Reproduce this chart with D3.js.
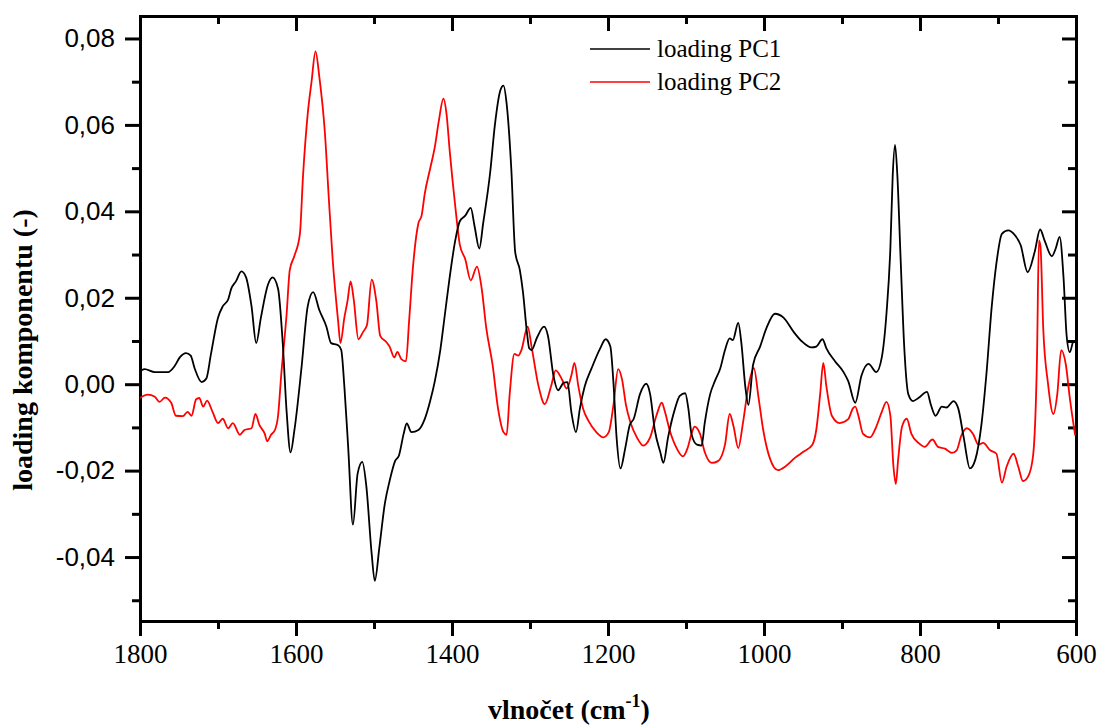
<!DOCTYPE html>
<html>
<head>
<meta charset="utf-8">
<script src="https://cdn.jsdelivr.net/npm/d3@7"></script>
<style>
  body { margin: 0; background: #fff; }
  .axis path, .axis line { stroke: #000; }
  .axis text { fill: #000; }
</style>
</head>
<body>
<div id="chart-area"></div>
<script>

// Data (wavenumber in cm-1, loading value)

let pc1Wn = [1798,1794,1781,1764,1756,1749,1741,1735,1730,1721,1715,1709,1700,1694,1687,1683,1677,1670,1664,1657,1651,1645,1636,1630,1623,1617,1612,1607,1602,1593,1585,1578,1570,1561,1555,1546,1542,1538,1533,1527,1521,1515,1510,1503,1499,1493,1486,
	1480,1473,1468,1462,1458,1452,1443,1435,1428,1422,1415,1409,1403,1396,1390,1383,1376,1371,1365,1360,1351,1345,1338,1334,1330,1324,1319,1313,1309,1304,1301,1298,1291,1282,1277,1270,1264,1257,1252,1247,1241,1236,1230,1221,1210,1203,1197,1193,1189,1184,1178,1172,1167,1159,1151,1146,1140,1133,1129,1123,1114,1108,1101,1097,1093,1086,1080,1076,1069,1063,1056,1050,1044,1040,1033,1029,1024,1020,1014,1005,997,986,975,962,952,939,933,925,920,909,898,892,883,875,866,856,849,843,838,835,832,829,825,820,815,809,802,791,786,780,772,766,757,751,744,736,729,721,715,708,702,695,687,678,671,662,653,646,640,631,626,621,616,612,608,603,600];

let pc1Val = [0.0032,0.0035,0.0028,0.0028,0.0041,0.0062,0.0072,0.0066,0.0037,0.0005,0.0013,0.0070,0.0154,0.0180,0.0196,0.0221,0.0238,0.0261,0.0247,0.0180,0.0095,0.0154,0.0230,0.0247,0.0221,0.0095,-0.0064,-0.0158,-0.0106,0.0037,0.0180,0.0213,0.0171,0.0133,0.0095,0.0090,0.0079,-0.0005,-0.0149,-0.0325,-0.0207,-0.0180,-0.0233,-0.0392,-0.0455,-0.0376,-0.0275,
	-0.0224,-0.0178,-0.0165,-0.0115,-0.0091,-0.0111,-0.0106,-0.0081,-0.0039,0.0007,0.0079,0.0163,0.0247,0.0331,0.0377,0.0390,0.0408,0.0365,0.0314,0.0373,0.0491,0.0600,0.0680,0.0691,0.0650,0.0499,0.0306,0.0264,0.0213,0.0121,0.0083,0.0079,0.0108,0.0133,0.0112,0.0020,-0.0014,0.0003,0.0005,-0.0064,-0.0111,-0.0056,-0.0006,0.0037,0.0083,0.0104,0.0087,0.0003,-0.0123,-0.0195,-0.0149,-0.0094,-0.0080,-0.0023,0.0001,-0.0023,-0.0106,-0.0157,-0.0182,-0.0123,-0.0056,-0.0027,-0.0021,-0.0056,-0.0115,-0.0140,-0.0142,-0.0090,-0.0023,0.0007,0.0037,0.0079,0.0106,0.0102,0.0142,0.0095,-0.0005,-0.0048,0.0045,0.0087,0.0129,0.0163,0.0154,0.0121,0.0100,0.0085,0.0087,0.0104,0.0083,0.0053,0.0028,0.0007,-0.0043,0.0020,0.0047,0.0028,0.0062,0.0163,0.0314,0.0482,0.0554,0.0482,0.0297,0.0079,-0.0023,-0.0039,-0.0032,-0.0018,-0.0048,-0.0073,-0.0052,-0.0054,-0.0039,-0.0056,-0.0123,-0.0195,-0.0174,-0.0090,0.0020,0.0180,0.0280,0.0348,0.0356,0.0344,0.0322,0.0259,0.0306,0.0358,0.0331,0.0296,0.0314,0.0341,0.0247,0.0112,0.0074,0.0100,0.0095];

let pc2Wn = [1800,1790,1781,1775,1768,1760,1754,1745,1739,1734,1728,1724,1719,1714,1707,1700,1694,1687,1681,1672,1666,1657,1652,1647,1640,1637,1632,1627,1623,1619,1612,1608,1602,1595,1591,1585,1580,1575,1570,1563,1558,1553,1546,1543,1538,1534,1530,1526,1520,1514,1509,1503,1497,1492,1484,
	1480,1474,1470,1465,1459,1455,1450,1443,1439,1435,1428,1422,1417,1411,1407,1403,1396,1390,1383,1376,1368,1362,1356,1348,1341,1334,1330,1326,1320,1315,1311,1303,1298,1289,1281,1273,1267,1259,1253,1247,1243,1238,1232,1225,1215,1206,1199,1193,1187,1182,1177,1171,
	1163,1155,1146,1138,1131,1127,1121,1112,1104,1098,1093,1089,1082,1076,1067,1059,1050,1044,1039,1033,1027,1020,1013,1007,1001,992,982,973,960,950,938,933,928,924,920,913,903,892,886,
	883,879,873,864,856,849,843,838,834,831,828,823,817,811,802,794,784,777,768,759,753,747,740,732,725,719,710,702,695,689,680,674,668,661,655,650,647.5,645.5,642,636,629,624,619,613,608,601];

let pc2Val = [-0.0032,-0.0024,-0.0029,-0.0041,-0.0031,-0.0043,-0.0073,-0.0074,-0.0064,-0.0073,-0.0035,-0.0032,-0.0052,-0.0038,-0.0064,-0.0090,-0.0080,-0.0102,-0.0090,-0.0117,-0.0106,-0.0102,-0.0069,-0.0094,-0.0115,-0.0132,-0.0117,-0.0106,-0.0073,0.0020,0.0163,0.0264,0.0297,0.0348,0.0482,0.0625,0.0701,0.0770,0.0710,0.0583,0.0432,0.0289,0.0146,0.0095,0.0154,0.0192,0.0238,0.0196,0.0104,0.0121,0.0137,0.0242,0.0192,0.0112,0.0097,
	0.0087,0.0062,0.0075,0.0058,0.0053,0.0146,0.0272,0.0373,0.0390,0.0440,0.0499,0.0549,0.0608,0.0661,0.0625,0.0541,0.0415,0.0323,0.0289,0.0240,0.0272,0.0222,0.0129,0.0045,-0.0056,-0.0111,-0.0117,-0.0022,0.0070,0.0066,0.0079,0.0133,0.0087,-0.0005,-0.0046,-0.0005,0.0032,0.0011,-0.0010,0.0020,0.0049,-0.0005,-0.0056,-0.0085,-0.0111,-0.0123,-0.0111,-0.0048,0.0035,0.0011,-0.0048,-0.0090,
	-0.0123,-0.0142,-0.0123,-0.0073,-0.0043,-0.0064,-0.0106,-0.0148,-0.0167,-0.0148,-0.0115,-0.0098,-0.0115,-0.0157,-0.0182,-0.0178,-0.0140,-0.0069,-0.0098,-0.0148,-0.0090,-0.0005,0.0037,-0.0031,-0.0106,-0.0174,-0.0199,-0.0191,-0.0170,-0.0157,-0.0140,-0.0106,-0.0023,0.0049,-0.0005,-0.0073,-0.0090,-0.0081,-0.0056,
	-0.0052,-0.0073,-0.0115,-0.0123,-0.0098,-0.0064,-0.0041,-0.0073,-0.0191,-0.0231,-0.0174,-0.0098,-0.0080,-0.0115,-0.0136,-0.0145,-0.0128,-0.0145,-0.0149,-0.0159,-0.0153,-0.0119,-0.0102,-0.0115,-0.0140,-0.0136,-0.0153,-0.0161,-0.0228,-0.0191,-0.0161,-0.0191,-0.0224,-0.0212,-0.0165,0.0062,0.0333,0.0318,0.0129,0.0003,-0.0069,-0.0023,0.0079,0.0045,-0.0031,-0.0119];

let xTicks = [1800, 1600, 1400, 1200, 1000, 800, 600];
let xMinorTicks = [1700, 1500, 1300, 1100, 900, 700];
let yTicks = [-0.04, -0.02, 0.00, 0.02, 0.04, 0.06, 0.08];
let yMinorTicks = [-0.05, -0.03, -0.01, 0.01, 0.03, 0.05, 0.07];

let seriesNames = ["loading PC1", "loading PC2"];
let seriesColors = ["#000000", "#ff0000"];

// SVG drawing area

let margin = {top: 16, right: 22, bottom: 105, left: 140};

let width = 1098 - margin.left - margin.right,
    height = 726 - margin.top - margin.bottom;

let svg = d3.select("#chart-area").append("svg")
    .attr("width", 1098)
    .attr("height", 726)
  .append("g")
    .attr("transform", "translate(" + margin.left + "," + margin.top + ")");

// Scales
let x = d3.scaleLinear()
	.domain([1800, 600])
	.range([0, width]);

let y = d3.scaleLinear()
	.domain([-0.0548, 0.0852])
	.range([height, 0]);

let yFormat = d => d3.format(".2f")(d).replace(".", ",").replace("\u2212", "-");

// axes: major + minor, outer ticks on bottom/left, inner ticks on top/right
function styleAxis(g, fontFamily, fontSize) {
	g.attr("class", "axis");
	g.select(".domain").attr("stroke-width", 3).attr("stroke-linecap", "square");
	g.selectAll(".tick line").attr("stroke-width", 3);
	g.selectAll("text").style("font-family", fontFamily).style("font-size", fontSize + "px");
}

svg.append("g")
	.attr("transform", "translate(0," + height + ")")
	.call(d3.axisBottom(x).tickValues(xTicks).tickSize(15).tickSizeOuter(0).tickPadding(8).tickFormat(d3.format("d")))
	.call(g => styleAxis(g, "'Liberation Serif', 'Times New Roman', serif", 27));

svg.append("g")
	.attr("transform", "translate(0," + height + ")")
	.call(d3.axisBottom(x).tickValues(xMinorTicks).tickSize(8).tickSizeOuter(0).tickFormat(""))
	.call(g => styleAxis(g, "serif", 10));

svg.append("g")
	.call(d3.axisTop(x).tickValues(xTicks).tickSize(-15).tickSizeOuter(0).tickFormat(""))
	.call(g => styleAxis(g, "serif", 10));

svg.append("g")
	.call(d3.axisTop(x).tickValues(xMinorTicks).tickSize(-8).tickSizeOuter(0).tickFormat(""))
	.call(g => styleAxis(g, "serif", 10));

svg.append("g")
	.call(d3.axisLeft(y).tickValues(yTicks).tickSize(15).tickSizeOuter(0).tickPadding(10).tickFormat(yFormat))
	.call(g => styleAxis(g, "'Liberation Sans', Arial, sans-serif", 26));

svg.append("g")
	.call(d3.axisLeft(y).tickValues(yMinorTicks).tickSize(8).tickSizeOuter(0).tickFormat(""))
	.call(g => styleAxis(g, "sans-serif", 10));

svg.append("g")
	.attr("transform", "translate(" + width + ",0)")
	.call(d3.axisRight(y).tickValues(yTicks).tickSize(-14).tickSizeOuter(0).tickFormat(""))
	.call(g => styleAxis(g, "sans-serif", 10));

svg.append("g")
	.attr("transform", "translate(" + width + ",0)")
	.call(d3.axisRight(y).tickValues(yMinorTicks).tickSize(-8).tickSizeOuter(0).tickFormat(""))
	.call(g => styleAxis(g, "sans-serif", 10));

// clip for the lines
svg.append("clipPath")
	.attr("id", "plot-clip")
  .append("rect")
	.attr("width", width)
	.attr("height", height);

let line = d3.line()
	.x(d => x(d[0]))
	.y(d => y(d[1]))
	.curve(d3.curveMonotoneX);

let series = [
	d3.zip(pc1Wn, pc1Val),
	d3.zip(pc2Wn, pc2Val)
];

// PC1 drawn last so it stays on top like in the original
svg.append("g")
	.attr("clip-path", "url(#plot-clip)")
	.selectAll("path")
	.data([1, 0])
	.enter().append("path")
	.attr("fill", "none")
	.attr("stroke", i => seriesColors[i])
	.attr("stroke-width", 1.8)
	.attr("stroke-linejoin", "round")
	.attr("d", i => line(series[i]));

// Legend
let legend = svg.append("g")
	.attr("transform", "translate(450,33)");

let legendItems = legend.selectAll("g")
	.data(seriesNames)
	.enter().append("g")
	.attr("transform", (d, i) => "translate(0," + (i * 33) + ")");

legendItems.append("line")
	.attr("x1", 0)
	.attr("x2", 60)
	.attr("stroke", (d, i) => seriesColors[i])
	.attr("stroke-width", 1.6);

legendItems.append("text")
	.attr("x", 67)
	.attr("dy", "0.32em")
	.style("font-family", "'Liberation Serif', 'Times New Roman', serif")
	.style("font-size", "25px")
	.text(d => d);

// Axis titles
svg.append("text")
	.attr("transform", "rotate(-90)")
	.attr("x", -334)
	.attr("y", -108)
	.attr("text-anchor", "middle")
	.style("font-family", "'Liberation Serif', 'Times New Roman', serif")
	.style("font-weight", "bold")
	.style("font-size", "28px")
	.text("loading komponentu (-)");

let xTitle = svg.append("text")
	.attr("x", 348)
	.attr("y", 703)
	.style("font-family", "'Liberation Serif', 'Times New Roman', serif")
	.style("font-weight", "bold")
	.style("font-size", "28px");

xTitle.append("tspan").text("vlnočet (cm");
xTitle.append("tspan").attr("dy", -12).style("font-size", "18px").text("-1");
xTitle.append("tspan").attr("dy", 12).text(")");

</script>
</body>
</html>
